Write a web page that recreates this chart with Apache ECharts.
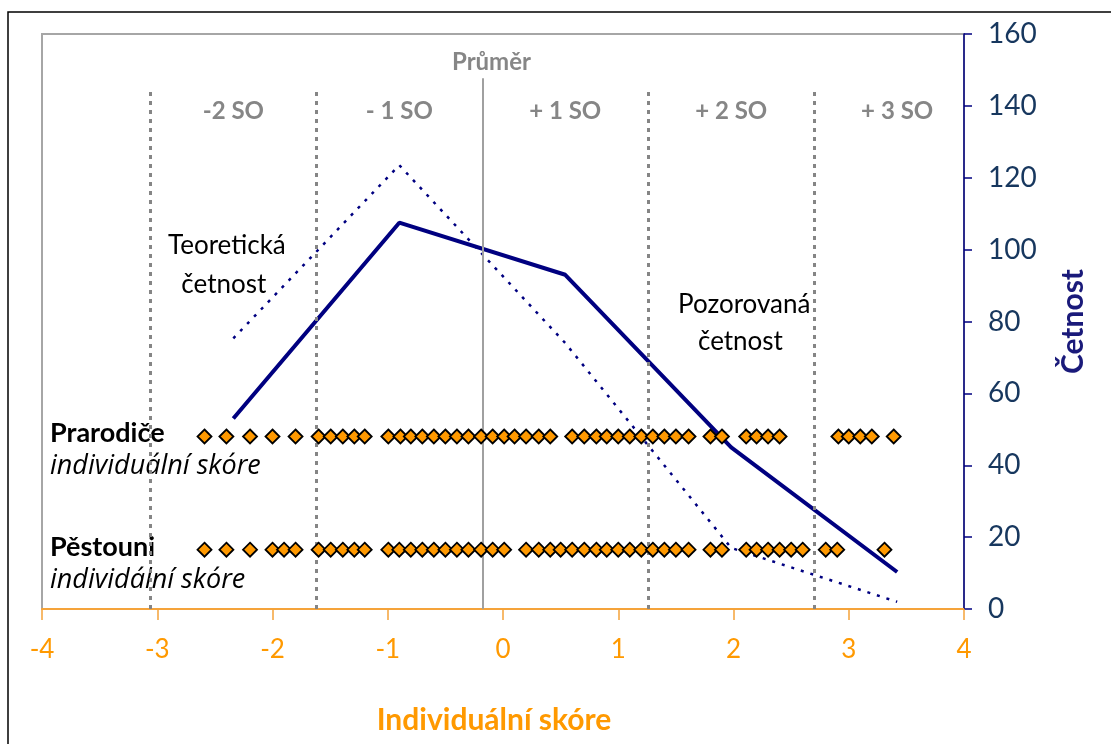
<!DOCTYPE html>
<html>
<head>
<meta charset="utf-8">
<script src="https://cdn.jsdelivr.net/npm/echarts@6/dist/echarts.min.js"></script>
<style>
  html, body { margin: 0; padding: 0; background: #fff; }
  #chart { width: 1111px; height: 744px; }
</style>
</head>
<body>
<div id="chart"></div>
<script>
// středy intervalů (po 1 SO)
var binMids = [-2.34, -0.90, 0.54, 1.98, 3.42];
var observed = [53, 107.5, 93, 45, 10.3];
var theoretical = [75.3, 123.5, 74, 17, 2];

// průměr a hranice SO
var meanX = -0.18;
var sdLines = [-3.06, -1.62, 1.26, 2.70];
var sdLabels = ['-2 SO', '- 1 SO', '+ 1 SO', '+ 2 SO', '+ 3 SO'];

// individuální skóre
var prarodiceY = 48;
var prarodice = [-2.59, -2.40, -2.195, -2.00, -1.80, -1.60, -1.495, -1.39, -1.29, -1.20,
    -0.995, -0.89, -0.80, -0.70, -0.60, -0.50, -0.40, -0.30, -0.19, -0.09, 0.01, 0.10,
    0.20, 0.31, 0.41, 0.60, 0.705, 0.81, 0.90, 1.00, 1.10, 1.20, 1.30, 1.40, 1.50, 1.61,
    1.80, 1.90, 2.11, 2.20, 2.30, 2.40, 2.91, 3.00, 3.10, 3.20, 3.39];
var pestouniY = 16.5;
var pestouni = [-2.59, -2.40, -2.195, -2.00, -1.90, -1.80, -1.60, -1.495, -1.39, -1.29,
    -1.20, -0.995, -0.90, -0.80, -0.70, -0.60, -0.50, -0.40, -0.30, -0.19, -0.09, 0.01,
    0.20, 0.31, 0.41, 0.50, 0.60, 0.705, 0.81, 0.90, 1.00, 1.10, 1.20, 1.30, 1.40, 1.50,
    1.61, 1.80, 1.90, 2.11, 2.20, 2.30, 2.40, 2.50, 2.60, 2.80, 2.90, 3.31];

var FONT = 'Lato';
var NAVY = '#000080';
var ORANGE = '#FF9900';
var GRAY = '#868686';

var myChart = echarts.init(document.getElementById('chart'));

var sdMarks = sdLines.map(function (x) {
    return [
        { coord: [x, 0], lineStyle: { color: '#858585', width: 3, type: [4, 5] } },
        { coord: [x, 144.4] }
    ];
});

var option = {
    animation: false,
    grid: {
        left: 42, right: 147, top: 34, bottom: 135,
        show: true,
        borderColor: '#a6a6a6',
        borderWidth: 2
    },
    xAxis: {
        type: 'value',
        min: -4, max: 4, interval: 1,
        name: 'Individuální skóre',
        nameLocation: 'middle',
        nameGap: 96,
        nameTextStyle: { color: ORANGE, fontFamily: FONT, fontWeight: 'bold', fontSize: 30, padding: [0, 18, 0, 0] },
        axisLine: { onZero: false, lineStyle: { color: '#f5a33a', width: 2 } },
        axisTick: { show: true, length: 11, lineStyle: { color: '#f5a33a', width: 1.5 } },
        axisLabel: { color: ORANGE, fontFamily: FONT, fontSize: 26, margin: 28 },
        splitLine: { show: false }
    },
    yAxis: {
        type: 'value',
        position: 'right',
        min: 0, max: 160, interval: 20,
        name: 'Četnost',
        nameLocation: 'middle',
        nameGap: 94,
        nameTextStyle: { color: '#1a1a7a', fontFamily: FONT, fontWeight: 'bold', fontSize: 30 },
        axisLine: { show: true, onZero: false, lineStyle: { color: NAVY, width: 1.5 } },
        axisTick: { show: true, length: 8, lineStyle: { color: NAVY, width: 1.5 } },
        axisLabel: { color: '#17375e', fontFamily: FONT, fontSize: 28, margin: 24 },
        splitLine: { show: false }
    },
    series: [
        {
            name: 'vodicí čáry',
            type: 'line',
            data: [],
            markLine: {
                silent: true,
                symbol: 'none',
                label: { show: false },
                data: sdMarks.concat([[
                    { coord: [meanX, 0], lineStyle: { color: '#a0a0a0', width: 2, type: 'solid' } },
                    { coord: [meanX, 147.7] }
                ]])
            }
        },
        {
            name: 'Teoretická četnost',
            type: 'line',
            data: binMids.map(function (x, i) { return [x, theoretical[i]]; }),
            symbol: 'none',
            lineStyle: { color: NAVY, width: 2.5, type: [3, 7] },
            z: 3
        },
        {
            name: 'Pozorovaná četnost',
            type: 'line',
            data: binMids.map(function (x, i) { return [x, observed[i]]; }),
            symbol: 'none',
            lineStyle: { color: NAVY, width: 4 },
            z: 4
        },
        {
            name: 'Prarodiče',
            type: 'scatter',
            data: prarodice.map(function (x) { return [x, prarodiceY]; }),
            symbol: 'diamond',
            symbolSize: 14,
            itemStyle: { color: ORANGE, borderColor: '#000', borderWidth: 1.8, opacity: 1 },
            z: 5
        },
        {
            name: 'Pěstouni',
            type: 'scatter',
            data: pestouni.map(function (x) { return [x, pestouniY]; }),
            symbol: 'diamond',
            symbolSize: 14,
            itemStyle: { color: ORANGE, borderColor: '#000', borderWidth: 1.8, opacity: 1 },
            z: 5
        },
        {
            name: 'popisky SO',
            type: 'scatter',
            symbolSize: 0,
            silent: true,
            itemStyle: { opacity: 1 },
            data: binMids.map(function (x, i) { return { value: [x, 138.6], name: sdLabels[i] }; })
                .concat([{ value: [-0.10, 152.2], name: 'Průměr' }]),
            label: {
                show: true,
                position: 'inside',
                formatter: '{b}',
                color: GRAY,
                fontFamily: FONT,
                fontWeight: 'bold',
                fontSize: 24
            }
        }
    ],
    graphic: [
        {
            type: 'rect', silent: true,
            shape: { x: 8, y: 12, width: 1200, height: 800 },
            style: { fill: 'none', stroke: '#000', lineWidth: 1.5 }
        },
        {
            type: 'text', left: 168, top: 226,
            style: { text: 'Teoretická\n  četnost', font: '26px Lato', fill: '#000', lineHeight: 39 }
        },
        {
            type: 'text', left: 678, top: 286,
            style: { text: 'Pozorovaná\n   četnost', font: '26px Lato', fill: '#000', lineHeight: 37 }
        },
        {
            type: 'text', left: 50, top: 420,
            style: { text: 'Prarodiče', font: 'bold 27px Lato', fill: '#000' }
        },
        {
            type: 'text', left: 50, top: 453,
            style: { text: 'individuální skóre', font: 'italic 27px "Open Sans"', fill: '#000' }
        },
        {
            type: 'text', left: 50, top: 567,
            style: { text: 'individální skóre', font: 'italic 27px "Open Sans"', fill: '#000' }
        },
        {
            type: 'text', left: 50, top: 534,
            style: { text: 'Pěstouni', font: 'bold 27px Lato', fill: '#000' }
        }
    ]
};

myChart.setOption(option);
</script>
</body>
</html>
